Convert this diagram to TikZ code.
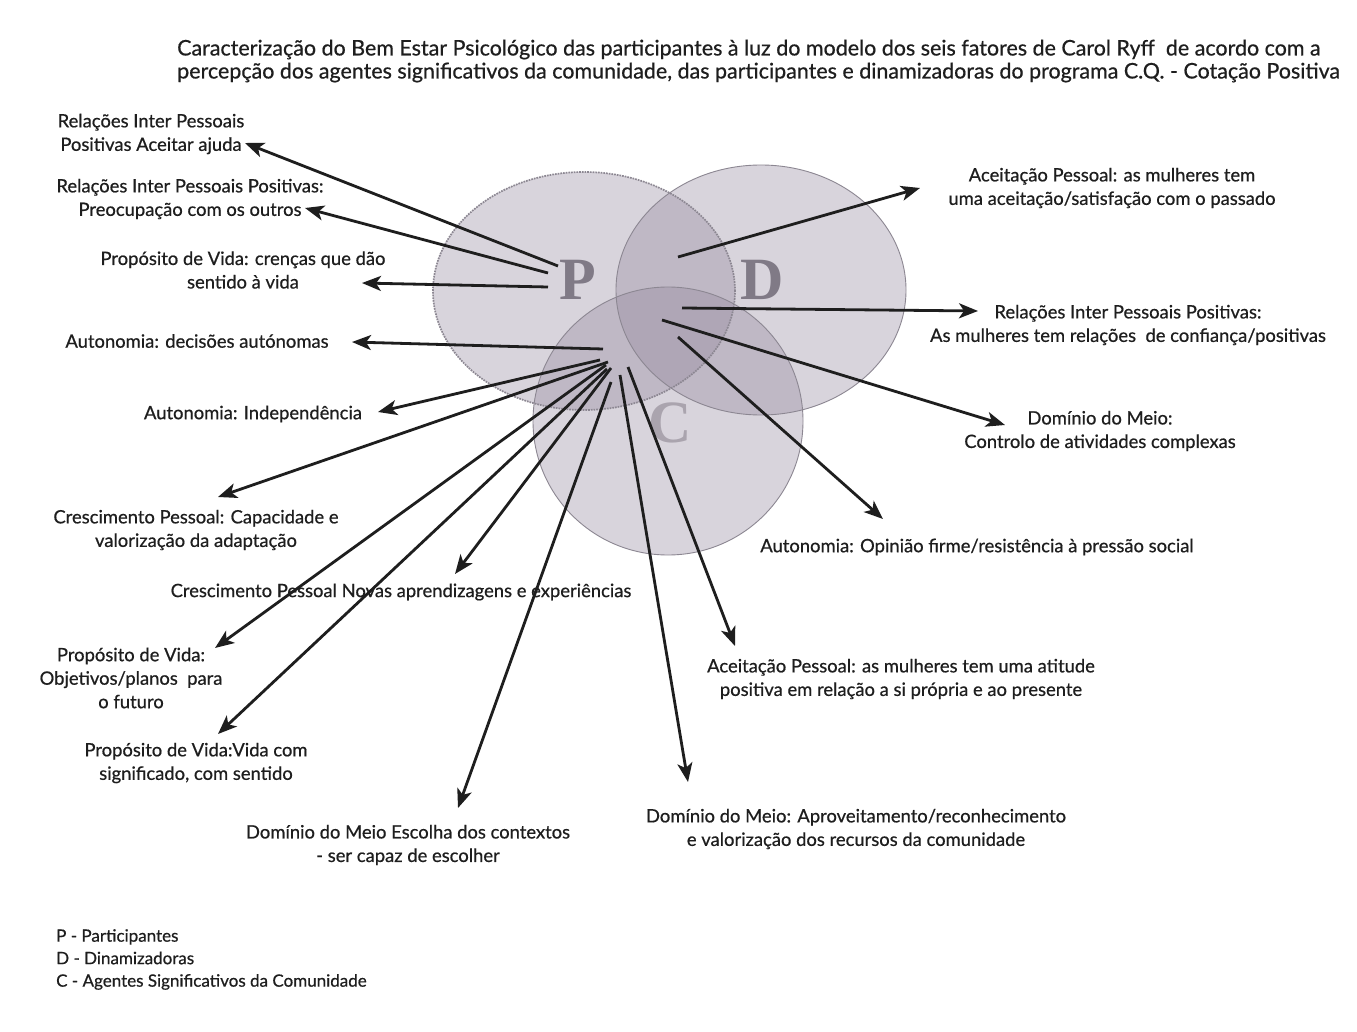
\documentclass[tikz,border=0pt]{standalone}
\usepackage{fontspec}
\setmainfont{Lato}
\newfontfamily\medfont{Lato}[UprightFeatures={FakeBold=0.6}]
\newfontfamily\letterfont{Liberation Serif}
\usetikzlibrary{arrows.meta}
\definecolor{inkc}{RGB}{30,30,30}
\definecolor{vennfill}{RGB}{148,136,158}
\definecolor{vennline}{RGB}{140,135,146}
\definecolor{lettergray}{RGB}{128,122,134}
\definecolor{lettergrayc}{RGB}{170,164,174}
\begin{document}
\begin{tikzpicture}[x=1pt,y=-1pt,
  lbl/.style={font=\medfont\fontsize{18.4}{23.5}\selectfont, text=inkc, align=center, inner sep=0pt},
  lgd/.style={font=\medfont\fontsize{17}{22.5}\selectfont, text=inkc, align=left, inner sep=0pt},
  ttl/.style={font=\medfont\fontsize{21.45}{23}\selectfont, text=inkc, align=left, inner sep=0pt},
  arr/.style={draw=inkc, line width=2.8pt, -{Stealth[length=19pt,width=15pt,inset=5pt]}},
  setfill/.style={fill=vennfill, fill opacity=0.36},
  letter/.style={font=\letterfont\bfseries\fontsize{60}{60}\selectfont, inner sep=0pt}]
\useasboundingbox (0,0) rectangle (1357,1032);
\fill[white] (0,0) rectangle (1357,1032);

% the three sets
\fill[setfill] (584,291) ellipse [x radius=151pt, y radius=119pt];
\fill[setfill] (761,290) ellipse [x radius=145pt, y radius=125pt];
\fill[setfill] (668,421) ellipse [x radius=135pt, y radius=134pt];
\draw[vennline, line width=1.7pt, densely dotted] (584,291) ellipse [x radius=151pt, y radius=119pt];
\draw[vennline, line width=0.9pt] (761,290) ellipse [x radius=145pt, y radius=125pt];
\draw[vennline, line width=0.9pt] (668,421) ellipse [x radius=135pt, y radius=134pt];

\node[letter, text=lettergray]  (lp) at (578,280) {P};
\node[letter, text=lettergray]  (ld) at (762,280) {D};
\node[letter, text=lettergrayc] (lc) at (670,423) {C};

% title
\node[ttl, anchor=west] (title) at (177,61) {Caracterização do Bem Estar Psicológico das participantes à luz do modelo dos seis fatores de Carol Ryff\ \ de acordo com a\\percepção dos agentes significativos da comunidade, das participantes e dinamizadoras do programa C.Q. - Cotação Positiva};

% labels
\node[lbl] (l1)  at (151,134) {Relações Inter Pessoais\\Positivas Aceitar ajuda};
\node[lbl] (l2)  at (190,199) {Relações Inter Pessoais Positivas:\\Preocupação com os outros};
\node[lbl] (l3)  at (243,270) {Propósito de Vida: crenças que dão\\sentido à vida};
\node[lbl] (l4)  at (197,341) {Autonomia: decisões autónomas};
\node[lbl] (l5)  at (253,414) {Autonomia: Independência};
\node[lbl] (l6)  at (196,530) {Crescimento Pessoal: Capacidade e\\valorização da adaptação};
\node[lbl] (l7)  at (401,592) {Crescimento Pessoal Novas aprendizagens e experiências};
\node[lbl] (l8)  at (131,678) {Propósito de Vida:\\Objetivos/planos\ \ para\\o futuro};
\node[lbl] (l9)  at (196,763) {Propósito de Vida:Vida com\\significado, com sentido};
\node[lbl] (l10) at (408,845) {Domínio do Meio Escolha dos contextos\\- ser capaz de escolher};
\node[lbl] (l11) at (856,829) {Domínio do Meio: Aproveitamento/reconhecimento\\e valorização dos recursos da comunidade};
\node[lbl] (l12) at (901,679) {Aceitação Pessoal: as mulheres tem uma atitude\\positiva em relação a si própria e ao presente};
\node[lbl] (l13) at (977,547) {Autonomia: Opinião firme/resistência à pressão social};
\node[lbl] (l14) at (1100,431) {Domínio do Meio:\\Controlo de atividades complexas};
\node[lbl] (l15) at (1128,325) {Relações Inter Pessoais Positivas:\\As mulheres tem relações\ \ de confiança/positivas};
\node[lbl] (l16) at (1112,188) {Aceitação Pessoal: as mulheres tem\\uma aceitação/satisfação com o passado};

% legend
\node[lgd, anchor=north west] (legend) at (56,929) {P - Participantes\\D - Dinamizadoras\\C - Agentes Significativos da Comunidade};

% arrow origins inside the sets
\coordinate (s1)  at (558,266);
\coordinate (s2)  at (548,273);
\coordinate (s3)  at (548,287);
\coordinate (s4)  at (603,349);
\coordinate (s5)  at (600,360);
\coordinate (s6)  at (608,362);
\coordinate (s7)  at (611,368);
\coordinate (s8)  at (606,365);
\coordinate (s9)  at (607,369);
\coordinate (s10) at (611,382);
\coordinate (s11) at (620,375);
\coordinate (s12) at (628,367);
\coordinate (s13) at (678,337);
\coordinate (s14) at (662,320);
\coordinate (s15) at (682,308);
\coordinate (s16) at (678,257);

% arrow tips beside the labels
\coordinate (t1)  at (245,143);
\coordinate (t2)  at (305,208);
\coordinate (t3)  at (362,283);
\coordinate (t4)  at (352,342);
\coordinate (t5)  at (378,412);
\coordinate (t6)  at (218,497);
\coordinate (t7)  at (455,574);
\coordinate (t8)  at (215,648);
\coordinate (t9)  at (218,734);
\coordinate (t10) at (458,808);
\coordinate (t11) at (688,782);
\coordinate (t12) at (735,646);
\coordinate (t13) at (883,519);
\coordinate (t14) at (1005,425);
\coordinate (t15) at (978,311);
\coordinate (t16) at (920,188);

\foreach \i in {1,...,16} { \draw[arr] (s\i) -- (t\i); }
\end{tikzpicture}
\end{document}
